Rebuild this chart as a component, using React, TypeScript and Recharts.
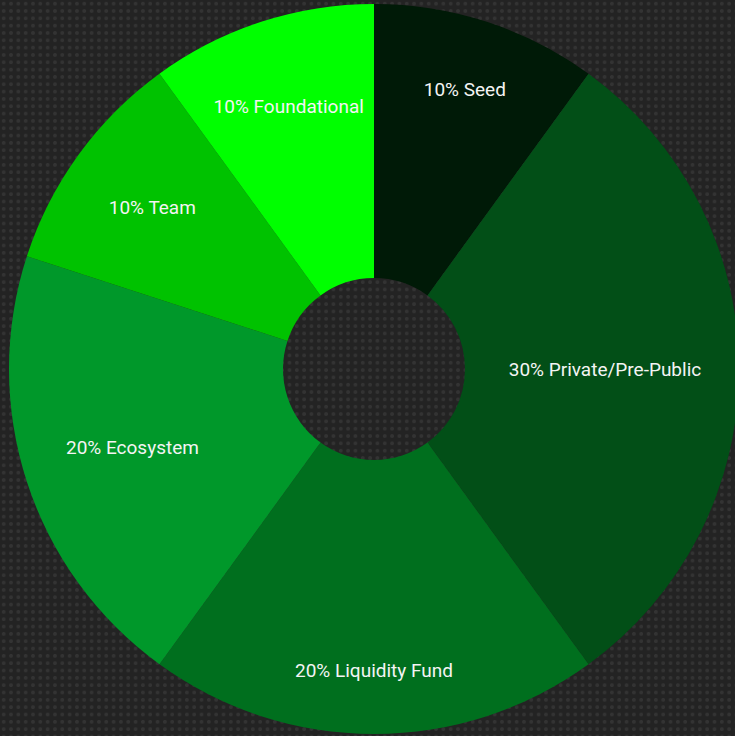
import React from "react"
import { PieChart, Pie, Cell } from "recharts"

const names = ["Seed", "Private/Pre-Public", "Liquidity Fund", "Ecosystem", "Team", "Foundational"]
const shares = [10, 30, 20, 20, 10, 10]
const colors = ["#001a07", "#024f17", "#006f1e", "#00982a", "#00c200", "#00ff00"]
// label distance from centre, per slice (px)
const labelRadius = [294, 231, 301, 254, 274, 276]

const data = names.map((name, i) => ({ name, value: shares[i] }))

const RAD = Math.PI / 180

const renderLabel = (props: any) => {
  const { cx, cy, midAngle, index, payload } = props
  const r = labelRadius[index]
  const x = cx + r * Math.cos(-midAngle * RAD)
  const y = cy + r * Math.sin(-midAngle * RAD)
  return (
    <text
      x={x}
      y={y}
      fill="#f4f4f4"
      textAnchor="middle"
      dominantBaseline="central"
      style={{ fontFamily: "Roboto, sans-serif", fontSize: 19 }}
    >
      {`${payload.value}% ${payload.name}`}
    </text>
  )
}

const App = () => {
  return (
    <div
      style={{
        position: "absolute",
        left: 0,
        top: 0,
        width: 735,
        height: 736,
        overflow: "hidden",
        backgroundColor: "#232323",
        backgroundImage: "radial-gradient(circle, #333333 1.6px, transparent 2.2px)",
        backgroundSize: "7.33px 7.33px",
      }}
    >
      <PieChart width={735} height={736} margin={{ top: 0, right: 0, bottom: 0, left: 0 }}>
        <Pie
          data={data}
          dataKey="value"
          cx={374}
          cy={369}
          innerRadius={91}
          outerRadius={365}
          startAngle={90}
          endAngle={-270}
          stroke="none"
          labelLine={false}
          label={renderLabel}
          isAnimationActive={false}
        >
          {data.map((d, i) => (
            <Cell key={d.name} fill={colors[i]} />
          ))}
        </Pie>
      </PieChart>
    </div>
  )
}

export default App
